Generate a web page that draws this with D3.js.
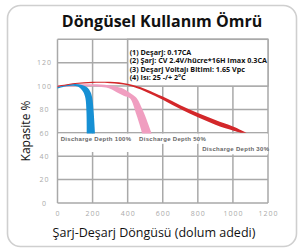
<!DOCTYPE html>
<html lang="tr">
<head>
<meta charset="utf-8">
<title>Döngüsel Kullanım Ömrü</title>
<style type="text/css">
body { margin: 0; background: white; }
svg { display: block; }
.tick text { font: 7px "Open Sans", sans-serif; fill: #aaa; letter-spacing: 1px; }
.grid line { stroke: #a9a9a9; stroke-width: 1.5px; }
.legend text { font: bold 7.2px "Open Sans", sans-serif; fill: #111; }
.dd text { font: bold 6px "Liberation Sans", sans-serif; fill: #666; letter-spacing: 0.3px; }
</style>
</head>
<body>
<svg width="302" height="252"></svg>
<script src="https://d3js.org/d3.v7.min.js"></script>
<script>
// axis ticks
var xTicks = [0, 200, 400, 600, 800, 1000, 1200];
var yTicks = [0, 20, 40, 60, 80, 100, 120];

var legendLines = [
  "(1) Deşarj: 0.17CA",
  "(2) Şarj: CV 2.4V/hücre*16H Imax 0.3CA",
  "(3) Deşarj Voltajı Bitimi: 1.65 Vpc",
  "(4) Isı: 25 -/+ 2°C"
];

// band edges [cycles, capacity %]
var dod100Outer = [[0, 99.2], [50, 101], [100, 101.7], [140, 101], [170, 98.8], [188, 95], [198, 89.8], [206, 78], [214, 59.5]];
var dod100Inner = [[0, 97.9], [50, 99.8], [90, 100.3], [115, 99.6], [130, 98.2], [147, 95], [159, 89.8], [165, 78], [167, 59.5]];

var dod50Outer = [[0, 100.4], [100, 101.4], [200, 101.5], [290, 100.8], [366, 98.3], [420, 93.5], [451, 89.8], [490, 78], [537, 59.5]];
var dod50Inner = [[0, 99.3], [150, 99.8], [250, 99.2], [300, 97.8], [340, 94.5], [380, 91.5], [413, 89.5], [450, 75.5], [483, 59.5]];

var dod30Outer = [[0, 100.2], [100, 102.6], [200, 103.6], [300, 103.6], [400, 102], [500, 97.6], [600, 91], [700, 83.6], [800, 77], [900, 71], [1000, 65.5], [1080, 60]];
var dod30Inner = [[0, 99.3], [100, 101.7], [200, 102.7], [300, 102.5], [400, 100.6], [500, 95.4], [600, 88.3], [700, 80.3], [800, 73.4], [900, 67], [1000, 62], [1045, 60]];

var depthLabels = ["Discharge Depth 100%", "Discharge Depth 50%", "Discharge Depth 30%"];

var svg = d3.select("svg");

var x = d3.scaleLinear().domain([0, 1200]).range([57.5, 268]),
    y = d3.scaleLinear().domain([0, 140]).range([203, 39.3]);

// outer rounded frame
svg.append("rect")
    .attr("x", 7.5).attr("y", 5.5)
    .attr("width", 289).attr("height", 241)
    .attr("rx", 13)
    .attr("fill", "white")
    .attr("stroke", "#cfcfcf")
    .attr("stroke-width", 1.6);

svg.append("text")
    .attr("x", 162).attr("y", 27)
    .attr("text-anchor", "middle")
    .style("font", "bold 16px 'Open Sans', sans-serif")
    .style("fill", "#111")
    .text("Döngüsel Kullanım Ömrü");

// grid
var grid = svg.append("g").attr("class", "grid");
grid.selectAll("line.v").data(xTicks).enter().append("line")
    .attr("x1", function(d) { return x(d); }).attr("x2", function(d) { return x(d); })
    .attr("y1", y(0)).attr("y2", y(140));
grid.selectAll("line.h").data(yTicks.concat([140])).enter().append("line")
    .attr("x1", x(0)).attr("x2", x(1200))
    .attr("y1", function(d) { return y(d); }).attr("y2", function(d) { return y(d); });

// tick labels
svg.append("g")
    .attr("transform", "translate(0," + (y(0) + 5) + ")")
    .call(d3.axisBottom(x).tickValues(xTicks).tickSize(0).tickFormat(d3.format("d")))
    .call(function(g) { g.select(".domain").remove(); });

var yAxis = svg.append("g")
    .attr("transform", "translate(" + (x(0) - 8) + ",0)")
    .call(d3.axisLeft(y).tickValues(yTicks).tickSize(0).tickFormat(d3.format("d")))
    .call(function(g) { g.select(".domain").remove(); });
yAxis.selectAll("text").attr("text-anchor", "middle").attr("x", -5);

// legend box covering the grid
var legend = svg.append("g").attr("class", "legend");
legend.append("rect")
    .attr("x", x(400)).attr("y", y(140))
    .attr("width", x(1200) - x(400)).attr("height", y(100) - y(140))
    .attr("fill", "white")
    .attr("stroke", "#a9a9a9").attr("stroke-width", 1.5);
legend.selectAll("text").data(legendLines).enter().append("text")
    .attr("x", x(400) + 2)
    .attr("y", function(d, i) { return 54.5 + i * 8.5; })
    .text(function(d) { return d; });

// white strips behind the depth labels
var dd = svg.append("g").attr("class", "dd");
var ddBoxes = [[0, 415, 60, 43], [415, 800, 60, 50], [805, 1195, 60, 41]];
dd.selectAll("rect").data(ddBoxes).enter().append("rect")
    .attr("x", function(d) { return x(d[0]) + 0.8; })
    .attr("width", function(d) { return x(d[1]) - x(d[0]); })
    .attr("y", function(d) { return y(d[2]) + 0.8; })
    .attr("height", function(d) { return y(d[3]) - y(d[2]) - 1.5; })
    .attr("fill", "white");

// bands
var line = d3.line()
    .x(function(d) { return x(d[0]); })
    .y(function(d) { return y(d[1]); })
    .curve(d3.curveCatmullRom);

function band(outer, inner) {
  var back = inner.slice().reverse();
  return line(outer) + "L" + line(back).slice(1) + "Z";
}

var bands = [
  {outer: dod50Outer, inner: dod50Inner, color: "#f09ec0"},
  {outer: dod100Outer, inner: dod100Inner, color: "#1690d4"},
  {outer: dod30Outer, inner: dod30Inner, color: "#d3272a"}
];
svg.append("g").selectAll("path").data(bands).enter().append("path")
    .attr("d", function(d) { return band(d.outer, d.inner); })
    .attr("fill", function(d) { return d.color; });

dd.selectAll("text").data(depthLabels).enter().append("text")
    .attr("x", function(d, i) { return [x(18), x(465), x(825)][i]; })
    .attr("y", function(d, i) { return [141, 141, 150.5][i]; })
    .text(function(d) { return d; });

// axis titles
svg.append("text")
    .attr("transform", "translate(30," + 131 + ") rotate(-90)")
    .attr("text-anchor", "middle")
    .style("font", "12px 'Open Sans', sans-serif")
    .style("fill", "#111")
    .text("Kapasite %");

svg.append("text")
    .attr("x", 154).attr("y", 237)
    .attr("text-anchor", "middle")
    .style("font", "12.5px 'Open Sans', sans-serif")
    .style("fill", "#111")
    .text("Şarj-Deşarj Döngüsü (dolum adedi)");
</script>
</body>
</html>
